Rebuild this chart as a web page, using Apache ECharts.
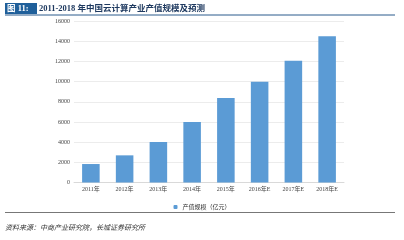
<!DOCTYPE html>
<html>
<head>
<meta charset="utf-8">
<script src="https://cdn.jsdelivr.net/npm/echarts@6/dist/echarts.min.js"></script>
<style>
  html, body { margin: 0; padding: 0; background: #fff; }
  #chart { width: 404px; height: 240px; }
</style>
</head>
<body>
<div id="chart"></div>
<script>
  // data
  var years = ["2011年", "2012年", "2013年", "2014年", "2015年", "2016年E", "2017年E", "2018年E"];
  var outputValue = [1830, 2690, 4010, 5990, 8370, 9980, 12060, 14480];
  var seriesName = "产值规模（亿元）";
  var titleTag = "图 11:";
  var titleText = "2011-2018 年中国云计算产业产值规模及预测";
  var sourceText = "资料来源：中商产业研究院，长城证券研究所";

  function drawChart() {
    var chartDom = document.getElementById("chart");
    var myChart = echarts.init(chartDom, null, { renderer: "canvas" });
    var option;

    option = {
      animation: false,
      textStyle: { fontFamily: "Liberation Serif, Noto Sans CJK SC" },
      grid: {
        left: 74,
        right: 60,
        top: 21,
        bottom: 57.5,
      },
      legend: {
        data: [seriesName],
        top: 199,
        left: "center",
        itemWidth: 4,
        itemHeight: 4,
        itemGap: 4,
        textStyle: { fontSize: 6, color: "#333", fontFamily: "Noto Sans CJK SC" },
      },
      xAxis: {
        type: "category",
        data: years,
        axisLine: { lineStyle: { color: "#d9d9d9" } },
        axisTick: { show: false },
        axisLabel: { fontSize: 6, color: "#444", margin: 4, interval: 0 },
      },
      yAxis: {
        type: "value",
        min: 0,
        max: 16000,
        interval: 2000,
        axisLine: { show: false },
        axisTick: { show: false },
        axisLabel: {
          fontSize: 6, color: "#444", margin: 4,
          formatter: function (v) { return String(v); },
        },
        splitLine: { lineStyle: { color: "#ececec", width: 1 } },
      },
      series: [
        {
          name: seriesName,
          type: "bar",
          barWidth: "52%",
          data: outputValue,
          itemStyle: { color: "#5b9bd5" },
        },
      ],
      graphic: [
        {
          type: "rect",
          shape: { x: 5, y: 3, width: 32, height: 11 },
          style: { fill: "#1f5f9a" },
        },
        {
          type: "text",
          x: 7, y: 8.5,
          style: {
            text: titleTag, fill: "#fff", fontSize: 8.5, fontWeight: "bold",
            fontFamily: "Liberation Serif, Noto Sans CJK SC", verticalAlign: "middle",
          },
        },
        {
          type: "text",
          x: 39, y: 8.5,
          style: {
            text: titleText, fill: "#1f3a60", fontSize: 8.5, fontWeight: "bold",
            fontFamily: "Liberation Serif, Noto Sans CJK SC", verticalAlign: "middle",
          },
        },
        {
          type: "line",
          shape: { x1: 5, y1: 15, x2: 395, y2: 15 },
          style: { stroke: "#2a5b8c", lineWidth: 1 },
        },
        {
          type: "line",
          shape: { x1: 5, y1: 212.5, x2: 395, y2: 212.5 },
          style: { stroke: "#777", lineWidth: 1 },
        },
        {
          type: "text",
          x: 5, y: 227,
          style: {
            text: sourceText, fill: "#333", fontSize: 7, fontStyle: "italic",
            fontFamily: "Noto Sans CJK SC", verticalAlign: "middle",
          },
        },
      ],
    };
    option && myChart.setOption(option);
  }

  drawChart();
</script>
</body>
</html>
